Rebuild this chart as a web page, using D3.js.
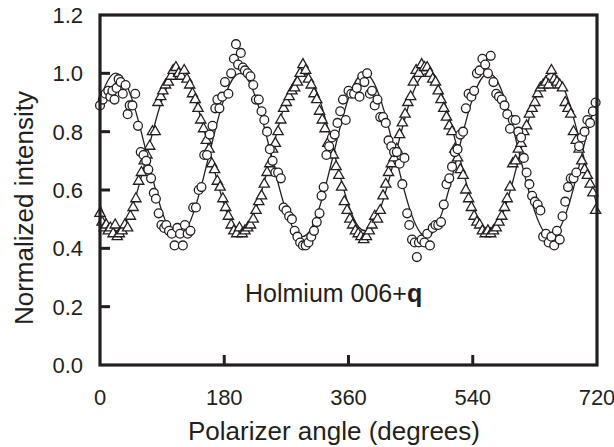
<!DOCTYPE html>
<html>
<head>
<meta charset="utf-8">
<script src="https://cdn.jsdelivr.net/npm/d3@7"></script>
<style>
  body { margin: 0; background: #fff; }
  svg { display: block; font-family: "Liberation Sans", Arial, sans-serif; }
</style>
</head>
<body>
<svg id="chart"></svg>
<script>
// measured points: [polarizer angle, normalized intensity]
const circlePoints = [
  [0,0.89],[4,0.91],[8,0.93],[12,0.94],[15,0.92],[18,0.94],[21,0.91],[24,0.95],[27,0.98],[30,0.97],
  [33,0.93],[37,0.96],[40,0.86],[43,0.89],[47,0.89],[51,0.93],[55,0.82],[59,0.73],[63,0.72],[67,0.70],
  [70,0.67],[74,0.64],[78,0.59],[81,0.57],[85,0.52],[89,0.48],[93,0.47],[96,0.48],[100,0.46],[104,0.45],
  [108,0.41],[112,0.47],[116,0.45],[120,0.41],[123,0.48],[127,0.45],[131,0.46],[135,0.54],[139,0.54],[143,0.60],
  [147,0.61],[151,0.72],[155,0.72],[159,0.79],[163,0.82],[167,0.88],[170,0.91],[173,0.88],[177,0.92],[181,0.97],
  [186,0.93],[190,1.00],[194,1.05],[197,1.10],[200,1.03],[204,1.07],[207,1.02],[210,1.01],[214,1.00],[218,0.99],
  [222,0.96],[226,0.91],[230,0.91],[234,0.87],[238,0.84],[242,0.80],[246,0.74],[250,0.70],[254,0.66],[258,0.66],
  [262,0.64],[266,0.54],[270,0.53],[274,0.51],[278,0.50],[282,0.46],[286,0.44],[290,0.42],[294,0.41],[298,0.41],
  [302,0.42],[306,0.44],[310,0.46],[314,0.49],[318,0.52],[321,0.58],[324,0.61],[328,0.72],[332,0.75],[336,0.78],
  [340,0.79],[344,0.83],[348,0.87],[352,0.91],[356,0.84],[360,0.94],[364,0.93],[368,0.93],[372,0.95],[376,0.92],
  [380,0.99],[383,0.97],[387,1.00],[391,0.93],[394,0.94],[398,0.89],[402,0.91],[406,0.85],[410,0.85],[414,0.83],
  [418,0.77],[422,0.75],[426,0.73],[430,0.73],[434,0.69],[438,0.62],[441,0.71],[445,0.52],[448,0.48],[452,0.43],
  [456,0.42],[459,0.37],[462,0.42],[466,0.43],[470,0.42],[474,0.45],[478,0.41],[482,0.47],[486,0.48],[490,0.48],
  [494,0.49],[498,0.55],[502,0.62],[506,0.64],[510,0.68],[514,0.73],[518,0.74],[522,0.79],[526,0.80],[530,0.88],
  [534,0.93],[538,0.92],[542,0.94],[546,1.00],[550,1.01],[554,1.05],[558,1.03],[562,1.00],[566,1.06],[570,0.97],
  [574,0.93],[578,0.92],[582,0.91],[586,0.89],[590,0.86],[594,0.81],[598,0.84],[602,0.84],[606,0.80],[610,0.78],
  [614,0.71],[618,0.66],[622,0.62],[626,0.58],[630,0.56],[634,0.55],[638,0.53],[642,0.44],[646,0.45],[650,0.42],
  [654,0.44],[658,0.41],[662,0.46],[666,0.43],[670,0.51],[674,0.56],[678,0.61],[682,0.64],[686,0.64],[690,0.66],
  [694,0.75],[698,0.78],[702,0.80],[706,0.84],[710,0.83],[714,0.87],[718,0.90]
]

const trianglePoints = [
  [0,0.52],[3,0.49],[6,0.47],[9,0.48],[12,0.46],[15,0.47],[19,0.45],[22,0.48],[25,0.44],[28,0.45],
  [32,0.46],[36,0.48],[40,0.47],[44,0.51],[48,0.54],[52,0.57],[56,0.63],[60,0.66],[64,0.70],[68,0.72],
  [72,0.75],[76,0.80],[80,0.80],[84,0.90],[88,0.92],[91,0.94],[95,0.96],[99,0.97],[103,0.99],[106,1.01],
  [110,1.02],[114,1.00],[118,0.99],[122,1.01],[126,0.98],[130,0.96],[134,0.93],[138,0.91],[142,0.88],[146,0.84],
  [150,0.81],[154,0.77],[158,0.74],[162,0.69],[166,0.67],[170,0.63],[174,0.61],[178,0.57],[182,0.54],[186,0.51],
  [190,0.48],[194,0.46],[198,0.45],[202,0.47],[206,0.45],[210,0.46],[214,0.47],[218,0.48],[222,0.50],[226,0.53],
  [230,0.56],[234,0.58],[238,0.62],[242,0.66],[246,0.69],[250,0.74],[254,0.76],[258,0.80],[262,0.84],[266,0.88],
  [270,0.90],[274,0.92],[278,0.94],[282,0.95],[286,0.97],[290,1.00],[294,1.03],[298,1.01],[302,0.98],[306,0.96],
  [310,0.93],[314,0.91],[318,0.87],[322,0.84],[326,0.81],[330,0.76],[334,0.74],[338,0.72],[342,0.68],[346,0.65],
  [350,0.61],[354,0.56],[358,0.53],[362,0.50],[366,0.48],[370,0.46],[374,0.45],[378,0.44],[382,0.43],[386,0.44],
  [390,0.46],[394,0.48],[398,0.51],[402,0.50],[406,0.53],[410,0.58],[414,0.62],[418,0.66],[422,0.69],[426,0.71],
  [430,0.74],[434,0.79],[438,0.83],[442,0.86],[446,0.90],[450,0.92],[454,0.97],[458,1.01],[462,1.00],[466,1.03],
  [470,1.02],[474,1.02],[478,1.00],[482,0.98],[486,0.97],[490,0.94],[494,0.91],[498,0.88],[502,0.85],[506,0.82],
  [510,0.80],[514,0.74],[518,0.71],[522,0.67],[526,0.65],[530,0.60],[534,0.57],[538,0.54],[542,0.51],[546,0.49],
  [550,0.48],[554,0.46],[558,0.45],[562,0.46],[566,0.45],[570,0.46],[574,0.47],[578,0.49],[582,0.51],[586,0.54],
  [590,0.57],[594,0.61],[598,0.69],[602,0.70],[606,0.74],[610,0.76],[614,0.80],[618,0.82],[622,0.86],[626,0.88],
  [630,0.90],[634,0.93],[638,0.95],[642,0.96],[646,0.97],[650,0.96],[654,1.01],[658,0.98],[662,0.97],[666,0.96],
  [670,0.95],[674,0.90],[678,0.88],[682,0.86],[686,0.80],[690,0.77],[694,0.74],[698,0.70],[702,0.67],[706,0.65],
  [710,0.62],[714,0.59],[718,0.53]
]

// fitted curves, read every 15 degrees
const fitAngles = d3.range(0, 721, 15)
const circleFit = [
  0.915,0.989,0.992,0.921,0.797,0.652,0.525,0.451,0.448,0.519,0.643,0.788,
  0.915,0.989,0.992,0.921,0.797,0.652,0.525,0.451,0.448,0.519,0.643,0.788,
  0.915,0.989,0.992,0.921,0.797,0.652,0.525,0.451,0.448,0.519,0.643,0.788,
  0.915,0.989,0.992,0.921,0.797,0.652,0.525,0.451,0.448,0.519,0.643,0.788,
  0.915
]
const triangleFit = [
  0.549,0.473,0.466,0.529,0.647,0.786,0.911,0.987,0.994,0.931,0.813,0.674,
  0.549,0.473,0.466,0.529,0.647,0.786,0.911,0.987,0.994,0.931,0.813,0.674,
  0.549,0.473,0.466,0.529,0.647,0.786,0.911,0.987,0.994,0.931,0.813,0.674,
  0.549,0.473,0.466,0.529,0.647,0.786,0.911,0.987,0.994,0.931,0.813,0.674,
  0.549
]

const xTicks = [0, 180, 360, 540, 720]
const yTicks = [0, 0.2, 0.4, 0.6, 0.8, 1.0, 1.2]

const width = 614
const height = 447
const margin = {top: 15, right: 17, bottom: 82, left: 100}
const ink = "#231f20"

const svg = d3.select("#chart")
    .attr("width", width)
    .attr("height", height)

const x = d3.scaleLinear().domain([0, 720]).range([margin.left, width - margin.right])
const y = d3.scaleLinear().domain([0, 1.2]).range([height - margin.bottom, margin.top])

// fit lines
const line = d3.line()
    .x(d => x(d[0]))
    .y(d => y(d[1]))
    .curve(d3.curveNatural)

const fits = [circleFit, triangleFit].map(vals => fitAngles.map((a, i) => [a, vals[i]]))

svg.append("g")
  .selectAll("path")
  .data(fits)
  .join("path")
    .attr("d", line)
    .attr("fill", "none")
    .attr("stroke", ink)
    .attr("stroke-width", 1.3)

// triangles
svg.append("g")
  .selectAll("path")
  .data(trianglePoints)
  .join("path")
    .attr("transform", d => `translate(${x(d[0])},${y(d[1])})`)
    .attr("d", d3.symbol(d3.symbolTriangle, 46))
    .attr("fill", "#fff")
    .attr("stroke", ink)
    .attr("stroke-width", 1.3)

// circles
svg.append("g")
  .selectAll("circle")
  .data(circlePoints)
  .join("circle")
    .attr("cx", d => x(d[0]))
    .attr("cy", d => y(d[1]))
    .attr("r", 4.4)
    .attr("fill", "#fff")
    .attr("stroke", ink)
    .attr("stroke-width", 1.3)

// frame
svg.append("rect")
    .attr("x", x(0))
    .attr("y", y(1.2))
    .attr("width", x(720) - x(0))
    .attr("height", y(0) - y(1.2))
    .attr("fill", "none")
    .attr("stroke", ink)
    .attr("stroke-width", 3.2)

// inward ticks
svg.append("g")
  .selectAll("line")
  .data(yTicks.slice(1, -1))
  .join("line")
    .attr("x1", x(0)).attr("x2", x(0) + 10)
    .attr("y1", d => y(d)).attr("y2", d => y(d))
    .attr("stroke", ink).attr("stroke-width", 3)

svg.append("g")
  .selectAll("line")
  .data(xTicks.slice(1, -1))
  .join("line")
    .attr("x1", d => x(d)).attr("x2", d => x(d))
    .attr("y1", y(0)).attr("y2", y(0) - 10)
    .attr("stroke", ink).attr("stroke-width", 3)

// tick labels
svg.append("g")
    .attr("fill", ink)
    .style("font-size", "22px")
    .attr("text-anchor", "end")
  .selectAll("text")
  .data(yTicks)
  .join("text")
    .attr("x", x(0) - 17)
    .attr("y", d => y(d))
    .attr("dy", "0.36em")
    .text(d => d.toFixed(1))

svg.append("g")
    .attr("fill", ink)
    .style("font-size", "22px")
    .attr("text-anchor", "middle")
  .selectAll("text")
  .data(xTicks)
  .join("text")
    .attr("x", d => x(d))
    .attr("y", 405)
    .text(d => d)

// axis titles
svg.append("text")
    .attr("x", 334)
    .attr("y", 440)
    .attr("text-anchor", "middle")
    .attr("fill", ink)
    .style("font-size", "26px")
    .text("Polarizer angle (degrees)")

svg.append("text")
    .attr("transform", "translate(33,208) rotate(-90)")
    .attr("text-anchor", "middle")
    .attr("fill", ink)
    .style("font-size", "26px")
    .text("Normalized intensity")

// annotation
const note = svg.append("text")
    .attr("x", 245)
    .attr("y", 302)
    .attr("fill", ink)
    .style("font-size", "25px")
note.append("tspan").text("Holmium 006+")
note.append("tspan").attr("font-weight", "bold").text("q")
</script>
</body>
</html>
